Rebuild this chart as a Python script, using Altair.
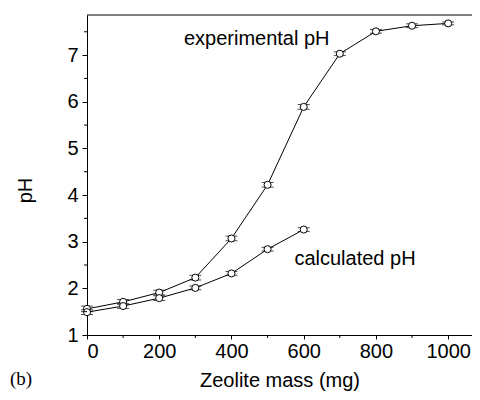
import altair as alt
import pandas as pd

mass_exp = [0, 100, 200, 300, 400, 500, 600, 700, 800, 900, 1000]
ph_exp = [1.56, 1.71, 1.91, 2.23, 3.07, 4.22, 5.89, 7.03, 7.51, 7.63, 7.68]
err_exp = [0.06, 0.05, 0.05, 0.05, 0.05, 0.05, 0.05, 0.04, 0.04, 0.04, 0.03]

mass_calc = [0, 100, 200, 300, 400, 500, 600]
ph_calc = [1.49, 1.62, 1.79, 2.01, 2.32, 2.84, 3.26]
err_calc = [0.05, 0.05, 0.05, 0.04, 0.04, 0.04, 0.04]

x_major = [0, 200, 400, 600, 800, 1000]
x_minor = [100, 300, 500, 700, 900]
y_major = [1, 2, 3, 4, 5, 6, 7]
y_minor = [1.5, 2.5, 3.5, 4.5, 5.5, 6.5, 7.5]

ann_text = ["experimental pH", "calculated pH"]
ann_x = [470, 742]
ann_y = [7.21, 2.50]

W, H = 385, 320
FONT = "Liberation Sans"
XT = "Zeolite mass (mg)"
YT = "pH"

df = pd.DataFrame({
    "mass": mass_exp + mass_calc,
    "ph": ph_exp + ph_calc,
    "err": err_exp + err_calc,
    "series": ["exp"] * len(mass_exp) + ["calc"] * len(mass_calc),
})
df["lo"] = df["ph"] - df["err"]
df["hi"] = df["ph"] + df["err"]

xs = alt.Scale(domain=[0, 1066], nice=False, zero=False)
ys = alt.Scale(domain=[1, 7.86], nice=False, zero=False)

xaxis = alt.Axis(values=x_major, title=XT, tickSize=4, labelPadding=2, format="d",
                 titleY=51, titleBaseline="alphabetic")
yaxis = alt.Axis(values=y_major, title=YT, tickSize=5, labelPadding=4, format="d",
                 titleX=-62, titleY=175, titleBaseline="middle")

base = alt.Chart(df)

lines = base.mark_line(color="black", strokeWidth=1).encode(
    x=alt.X("mass:Q", scale=xs, axis=xaxis),
    y=alt.Y("ph:Q", scale=ys, axis=yaxis),
    detail="series:N",
)

vbars = base.mark_rule(color="black", strokeWidth=1).encode(
    x=alt.X("mass:Q", title=XT), y=alt.Y("lo:Q", title=YT), y2="hi:Q")
caps_lo = base.mark_tick(color="black", orient="horizontal", size=12, thickness=1).encode(
    x=alt.X("mass:Q", title=XT), y=alt.Y("lo:Q", title=YT))
caps_hi = base.mark_tick(color="black", orient="horizontal", size=12, thickness=1).encode(
    x=alt.X("mass:Q", title=XT), y=alt.Y("hi:Q", title=YT))
points = base.mark_point(shape="circle", size=50, filled=True, fill="white",
                         stroke="black", strokeWidth=1, opacity=1).encode(
    x=alt.X("mass:Q", title=XT), y=alt.Y("ph:Q", title=YT))

xminor = alt.Chart(pd.DataFrame({"v": x_minor})).mark_rule(color="black").encode(
    x=alt.X("v:Q", title=XT), y=alt.value(H), y2=alt.value(H + 3))
yminor = alt.Chart(pd.DataFrame({"v": y_minor})).mark_rule(color="black").encode(
    y=alt.Y("v:Q", title=YT), x=alt.value(0), x2=alt.value(-3))
top = alt.Chart(pd.DataFrame({"v": [0]})).mark_rule(color="black", strokeWidth=1).encode(
    x=alt.value(0), x2=alt.value(W), y=alt.value(0))

ann = alt.Chart(pd.DataFrame({"t": ann_text, "x": ann_x, "y": ann_y})).mark_text(
    font=FONT, fontSize=20, align="center", baseline="alphabetic", color="black").encode(
    x=alt.X("x:Q", title=XT), y=alt.Y("y:Q", title=YT), text="t:N")

blabel = alt.Chart(pd.DataFrame({"t": ["(b)"]})).mark_text(
    font="Liberation Serif", fontSize=19, align="left", baseline="alphabetic", color="black").encode(
    x=alt.value(-77), y=alt.value(H + 50), text="t:N")

chart = alt.layer(lines, vbars, caps_lo, caps_hi, points, xminor, yminor, top, ann, blabel).properties(
    width=W, height=H,
    autosize=alt.AutoSizeParams(type="none"),
    padding={"left": 79, "top": 7, "right": 0, "bottom": 57},
).configure_view(stroke=None).configure_axis(
    labelFont=FONT, titleFont=FONT, labelFontSize=20, titleFontSize=20,
    labelColor="black", titleColor="black", titleFontWeight="normal",
    domainColor="black", tickColor="black", grid=False,
)

chart.save("out.html", embed_options={"renderer": "svg", "actions": False})
